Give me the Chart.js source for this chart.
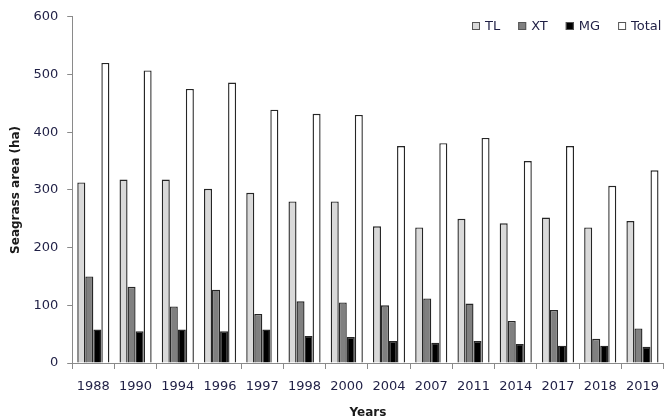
<!DOCTYPE html>
<html>
<head>
<meta charset="utf-8">
<script src="https://cdn.jsdelivr.net/npm/chart.js@4.4.0/dist/chart.umd.min.js"></script>
<style>
  html, body { margin: 0; padding: 0; background: #fff; }
  #wrap { width: 669px; height: 420px; }
</style>
</head>
<body>
<div id="wrap"><canvas id="seagrassChart"></canvas></div>
<script>
const years = ['1988', '1990', '1994', '1996', '1997', '1998', '2000', '2004', '2007', '2011', '2014', '2017', '2018', '2019'];
const tlArea    = [313, 318, 318, 302, 295, 280, 280, 237, 235, 250, 242, 252, 235, 246];
const xtArea    = [150, 132,  98, 127,  85, 107, 105, 100, 112, 103,  73,  92,  42,  60];
const mgArea    = [ 58,  55,  58,  55,  58,  47,  45,  38,  35,  38,  33,  30,  30,  28];
const totalArea = [520, 507, 475, 486, 439, 432, 430, 376, 381, 390, 350, 376, 307, 334];
const yTicks = [0, 100, 200, 300, 400, 500, 600];

const textColor = '#1f1f45';
const axisColor = '#8a8a8a';
const edgeColor = '#262626';

// legend drawn inside the plot, top right, like the original
const insideLegend = {
    id: 'insideLegend',
    afterDraw(chart) {
        const ctx = chart.ctx;
        const items = chart.data.datasets;
        ctx.save();
        ctx.font = '13px "DejaVu Sans"';
        ctx.textBaseline = 'middle';
        const box = 8, gapText = 5, gapItem = 18, y = 26;
        let total = 0;
        const widths = items.map(d => ctx.measureText(d.label).width);
        widths.forEach(w => { total += box + gapText + w; });
        total += gapItem * (items.length - 1);
        let x = Math.round(661 - total);
        items.forEach((d, i) => {
            ctx.fillStyle = d.backgroundColor;
            ctx.fillRect(x, y - box / 2, box, box);
            ctx.strokeStyle = '#555555';
            ctx.lineWidth = 1;
            ctx.strokeRect(x + 0.5, y - box / 2 + 0.5, box - 1, box - 1);
            ctx.fillStyle = textColor;
            ctx.fillText(d.label, x + box + gapText, y + 1);
            x += box + gapText + widths[i] + gapItem;
        });
        ctx.restore();
    }
};

const mkSet = (label, data, color) => ({
    label: label,
    data: data,
    backgroundColor: color,
    borderColor: edgeColor,
    borderWidth: 1.4,
    categoryPercentage: 0.76,
    barPercentage: 1.0
});

new Chart(document.getElementById('seagrassChart').getContext('2d'), {
    type: 'bar',
    data: {
        labels: years,
        datasets: [
            mkSet('TL', tlArea, '#d9d9d9'),
            mkSet('XT', xtArea, '#808080'),
            mkSet('MG', mgArea, '#000000'),
            mkSet('Total', totalArea, '#ffffff')
        ]
    },
    options: {
        responsive: true,
        maintainAspectRatio: false,
        animation: false,
        layout: { padding: { top: 6, right: 0, left: 9, bottom: 0 } },
        plugins: {
            legend: { display: false },
            tooltip: { enabled: false }
        },
        scales: {
            x: {
                grid: {
                    display: true,
                    drawOnChartArea: false,
                    drawTicks: true,
                    tickLength: 6,
                    color: axisColor
                },
                border: { color: axisColor, width: 1 },
                ticks: {
                    color: textColor,
                    font: { size: 13, family: 'DejaVu Sans' },
                    maxRotation: 0,
                    autoSkip: false,
                    padding: 10
                },
                title: {
                    display: true,
                    text: 'Years',
                    color: '#1a1a1a',
                    font: { size: 12, weight: 'bold', family: 'DejaVu Sans' },
                    padding: { top: 1, bottom: 0 }
                }
            },
            y: {
                min: 0,
                max: 600,
                afterBuildTicks(axis) {
                    axis.ticks = yTicks.map(v => ({ value: v }));
                },
                grid: {
                    display: true,
                    drawOnChartArea: false,
                    drawTicks: true,
                    tickLength: 5,
                    color: axisColor
                },
                border: { color: axisColor, width: 1 },
                ticks: {
                    color: textColor,
                    font: { size: 13, family: 'DejaVu Sans' },
                    padding: 9
                },
                title: {
                    display: true,
                    text: 'Seagrass area (ha)',
                    color: '#1a1a1a',
                    font: { size: 12, weight: 'bold', family: 'DejaVu Sans' },
                    padding: { top: 0, bottom: 1 }
                }
            }
        }
    },
    plugins: [insideLegend]
});
</script>
</body>
</html>
